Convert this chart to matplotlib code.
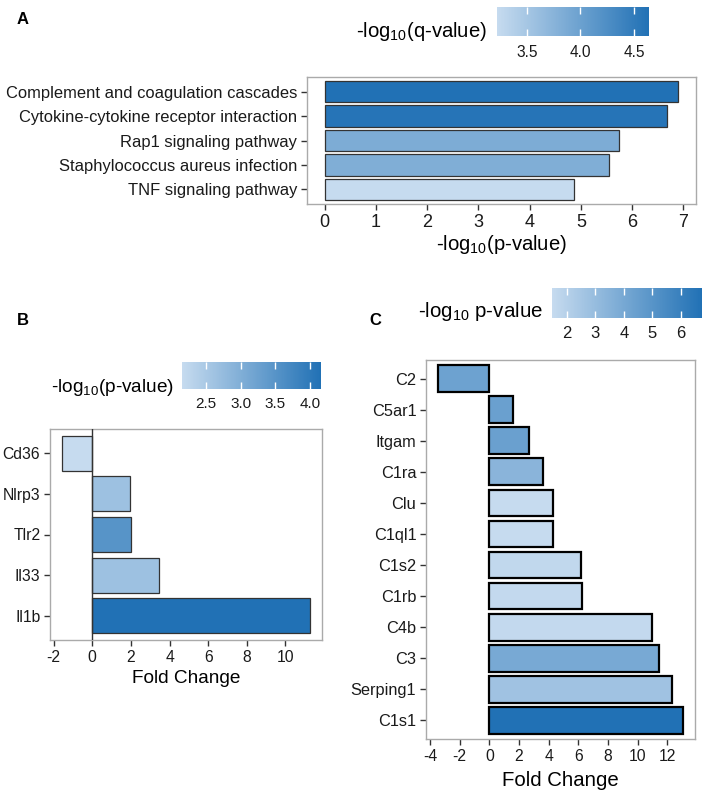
import numpy as np
import matplotlib
matplotlib.use('Agg')
import matplotlib.pyplot as plt
from matplotlib.colors import LinearSegmentedColormap, Normalize
from matplotlib.cm import ScalarMappable

#%% Daten

# Panel A: KEGG pathways
pathways = ['Complement and coagulation cascades', 'Cytokine-cytokine receptor interaction',
            'Rap1 signaling pathway', 'Staphylococcus aureus infection', 'TNF signaling pathway']
pathway_logp = [6.9, 6.67, 5.75, 5.54, 4.87]
pathway_logq = [4.64, 4.6, 3.85, 3.82, 3.22]

# Panel B: inflammatory genes
genes_b = ['Cd36', 'Nlrp3', 'Tlr2', 'Il33', 'Il1b']
fc_b = [-1.55, 1.94, 2.01, 3.47, 11.25]
logp_b = [2.15, 2.65, 3.5, 2.65, 4.16]

# Panel C: complement genes
genes_c = ['C2', 'C5ar1', 'Itgam', 'C1ra', 'Clu', 'C1ql1', 'C1s2', 'C1rb', 'C4b', 'C3', 'Serping1', 'C1s1']
fc_c = [-3.45, 1.57, 2.65, 3.63, 4.31, 4.3, 6.19, 6.28, 10.97, 11.44, 12.29, 13.05]
logp_c = [4.3, 4.4, 4.4, 3.4, 1.5, 1.5, 1.65, 1.6, 1.6, 3.95, 2.7, 6.73]

#%% Einstellungen

plt.rcParams['font.family'] = 'Liberation Sans'
plt.rcParams['mathtext.fontset'] = 'custom'
plt.rcParams['mathtext.rm'] = 'Liberation Sans'
plt.rcParams['mathtext.default'] = 'regular'

W, H = 709, 793
cmap = LinearSegmentedColormap.from_list('blues', ['#c6dbef', '#2171b5'])

fig = plt.figure(figsize=(W / 100, H / 100), dpi=100)


def box(l, t, r, b):
    # Pixel (von oben) -> Figure-Koordinaten
    return [l / W, 1 - b / H, (r - l) / W, (b - t) / H]


def bar_panel(rect, labels, values, cvals, vmin, vmax, height, edge, lw,
              ytick_size, xtick_size, xlabel, xlabel_size, xticks, labelpad):
    ax = fig.add_axes(rect)
    n = len(labels)
    ypos = np.arange(n)
    norm = Normalize(vmin, vmax)
    ax.barh(ypos, values, height=height, color=cmap(norm(np.array(cvals))),
            edgecolor=edge, linewidth=lw, zorder=2)
    lo = min(0, min(values))
    hi = max(values)
    pad = 0.05 * (hi - lo)
    ax.set_xlim(lo - pad, hi + pad)
    ax.set_ylim(n - 0.4, -0.6)
    ax.set_yticks(ypos)
    ax.set_yticklabels(labels, fontsize=ytick_size, color='#1a1a1a')
    ax.set_xticks(xticks)
    ax.set_xticklabels([str(t) for t in xticks], fontsize=xtick_size, color='#1a1a1a')
    ax.tick_params(length=4, width=1, color='#333333', pad=3)
    ax.set_xlabel(xlabel, fontsize=xlabel_size, labelpad=labelpad)
    for s in ax.spines.values():
        s.set_color('#aaaaaa')
        s.set_linewidth(1)
    return ax, norm


def colorbar(rect, norm, ticks, ticklabels, size, pad, title, title_x, title_y, title_size):
    cax = fig.add_axes(rect)
    cb = fig.colorbar(ScalarMappable(norm=norm, cmap=cmap), cax=cax, orientation='horizontal')
    cb.outline.set_visible(False)
    cb.set_ticks(ticks)
    cb.set_ticklabels(ticklabels)
    cax.tick_params(axis='x', direction='in', length=5, width=1, color='white',
                    top=True, bottom=True, labelsize=size, pad=pad, labelcolor='#1a1a1a')
    fig.text(title_x / W, 1 - title_y / H, title, fontsize=title_size,
             ha='right', va='baseline')


#%% Panel A

axA, normA = bar_panel(box(307, 77, 696, 204), pathways, pathway_logp, pathway_logq, 3.22, 4.64,
                       0.87, '#333333', 0.9, 11.9, 13, '-log$_{10}$(p-value)', 14.6,
                       [0, 1, 2, 3, 4, 5, 6, 7], 2)
colorbar(box(497, 7, 649, 36), normA, [3.5, 4.0, 4.5], ['3.5', '4.0', '4.5'], 11.2, 6.5,
         '-log$_{10}$(q-value)', 487, 37, 14.6)
fig.text(23 / W, 1 - 19 / H, 'A', fontsize=12, fontweight='bold', ha='center', va='center')

#%% Panel B

axB, normB = bar_panel(box(50, 429, 322, 640), genes_b, fc_b, logp_b, 2.15, 4.16,
                       0.86, '#333333', 0.9, 11.3, 11.3, 'Fold Change', 13.7,
                       [-2, 0, 2, 4, 6, 8, 10], 4)
axB.axvline(0, color='#333333', linewidth=1, zorder=3)
colorbar(box(182, 362, 321, 389), normB, [2.5, 3.0, 3.5, 4.0], ['2.5', '3.0', '3.5', '4.0'], 11, 5.5,
         '-log$_{10}$(p-value)', 174, 392, 13.7)
fig.text(23 / W, 1 - 320 / H, 'B', fontsize=12, fontweight='bold', ha='center', va='center')

#%% Panel C

axC, normC = bar_panel(box(426, 360, 695, 739), genes_c, fc_c, logp_c, 1.49, 6.73,
                       0.86, 'black', 1.6, 11.8, 11.3, 'Fold Change', 14.7,
                       [-4, -2, 0, 2, 4, 6, 8, 10, 12], 5)
colorbar(box(552, 288, 702, 318), normC, [2, 3, 4, 5, 6], ['2', '3', '4', '5', '6'], 12, 5.5,
         '-log$_{10}$ p-value', 543, 317, 14.8)
fig.text(375 / W, 1 - 320 / H, 'C', fontsize=12, fontweight='bold', ha='center', va='center')

fig.savefig('out.png', dpi=100)
